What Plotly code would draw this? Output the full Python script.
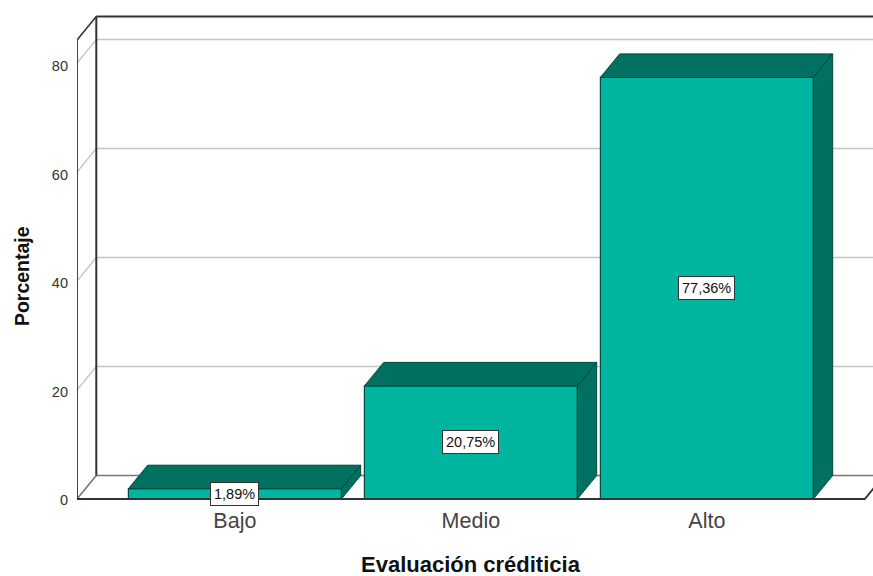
import plotly.graph_objects as go

categories = ["Bajo", "Medio", "Alto"]
values = [1.89, 20.75, 77.36]
labels = ["1,89%", "20,75%", "77,36%"]
y_ticks = [0, 20, 40, 60, 80]
x_title = "Evaluación créditicia"
y_title = "Porcentaje"

W, H = 873, 576
L, R, T, B = 77, 0, 10, 75
PX_Y = 5.45
PX_X = 236.0
DX = 19.3 / PX_X
DY = 23.5 / PX_Y
BAR_W = 213 / PX_X
X0 = -0.669
X1 = 2.669
Y_MIN = -2 / PX_Y
X_RANGE = [X0, X0 + (W - L - R) / PX_X]
Y_RANGE = [Y_MIN, Y_MIN + (H - B - T) / PX_Y]
WALL_TOP = 84.2
FRONT = "#00B5A0"
SIDE = "#007060"
EDGE = "#00493F"
DARK = "#333333"
GRID = "#C4C4C4"

shapes = []


def seg(x0, y0, x1, y1, color, width):
    shapes.append(dict(type="line", xref="x", yref="y", layer="below",
                       x0=x0, y0=y0, x1=x1, y1=y1,
                       line=dict(color=color, width=width)))


for v in y_ticks[1:]:
    seg(X0, v, X0 + DX, v + DY, GRID, 1.3)
    seg(X0 + DX, v + DY, X_RANGE[1] + 0.05, v + DY, GRID, 1.3)
seg(X0, 0, X0 + DX, DY, "#777777", 1.6)
seg(X0 + DX, DY, X_RANGE[1] + 0.05, DY, "#777777", 1.6)
seg(X0 + DX, DY, X0 + DX, WALL_TOP + DY, DARK, 2)
seg(X0 + DX, WALL_TOP + DY, X_RANGE[1] + 0.05, WALL_TOP + DY, DARK, 2)
seg(X0, WALL_TOP, X0 + DX, WALL_TOP + DY, DARK, 1.6)

fig = go.Figure()
xs = list(range(len(categories)))
fig.add_trace(go.Bar(x=xs, y=values, width=BAR_W, cliponaxis=False,
                     marker=dict(color=FRONT, line=dict(color=EDGE, width=1.2)),
                     hoverinfo="skip"))

for x, v in zip(xs, values):
    xl, xr = x - BAR_W / 2, x + BAR_W / 2
    fig.add_trace(go.Scatter(x=[xl, xr, xr + DX, xl + DX, xl],
                             y=[v, v, v + DY, v + DY, v],
                             mode="lines", fill="toself", fillcolor=SIDE,
                             line=dict(color=EDGE, width=1), cliponaxis=False,
                             hoverinfo="skip"))
    fig.add_trace(go.Scatter(x=[xr, xr + DX, xr + DX, xr, xr],
                             y=[0, DY, v + DY, v, 0],
                             mode="lines", fill="toself", fillcolor=SIDE,
                             line=dict(color=EDGE, width=1), cliponaxis=False,
                             hoverinfo="skip"))

fig.add_trace(go.Scatter(x=[X0, X0, X1, X1 + DX],
                         y=[WALL_TOP, 0, 0, DY],
                         mode="lines", line=dict(color=DARK, width=1.8),
                         cliponaxis=False, hoverinfo="skip"))

annotations = [dict(x=x, y=v / 2, xref="x", yref="y", text=t, showarrow=False,
                    font=dict(family="Liberation Sans", size=14.5, color="#111111"),
                    bgcolor="white", bordercolor=DARK, borderwidth=1, borderpad=3)
               for x, v, t in zip(xs, values, labels)]
annotations.append(dict(x=1, xref="x", y=0, yref="paper", yshift=-63,
                        yanchor="middle", text=x_title, showarrow=False,
                        font=dict(family="Liberation Sans", size=22,
                                  color="#111111", weight="bold")))
annotations.append(dict(x=0, xref="paper", xshift=-55, xanchor="center",
                        y=40.9, yref="y", yanchor="middle", textangle=-90,
                        text=y_title, showarrow=False,
                        font=dict(family="Liberation Sans", size=19.5,
                                  color="#111111", weight="bold")))

fig.update_layout(
    width=W, height=H, showlegend=False, template=None,
    paper_bgcolor="white", plot_bgcolor="white",
    margin=dict(l=L, r=R, t=T, b=B, autoexpand=False),
    font=dict(family="Liberation Sans", color=DARK),
    shapes=shapes, annotations=annotations,
    xaxis=dict(range=X_RANGE, tickvals=xs, ticktext=categories, showgrid=False,
               zeroline=False, showline=False, ticks="", ticklabelstandoff=4,
               tickfont=dict(size=21.5, color="#444444")),
    yaxis=dict(range=Y_RANGE, tickvals=[v * 0.995 - 0.2 for v in y_ticks],
               ticktext=[str(v) for v in y_ticks], showgrid=False, zeroline=False,
               showline=False, ticks="", ticklabelstandoff=8,
               tickfont=dict(size=14.5, color="#333333")),
)
fig.write_html("out.html", config={"displayModeBar": False},
               post_script="document.body.style.margin='0';")
